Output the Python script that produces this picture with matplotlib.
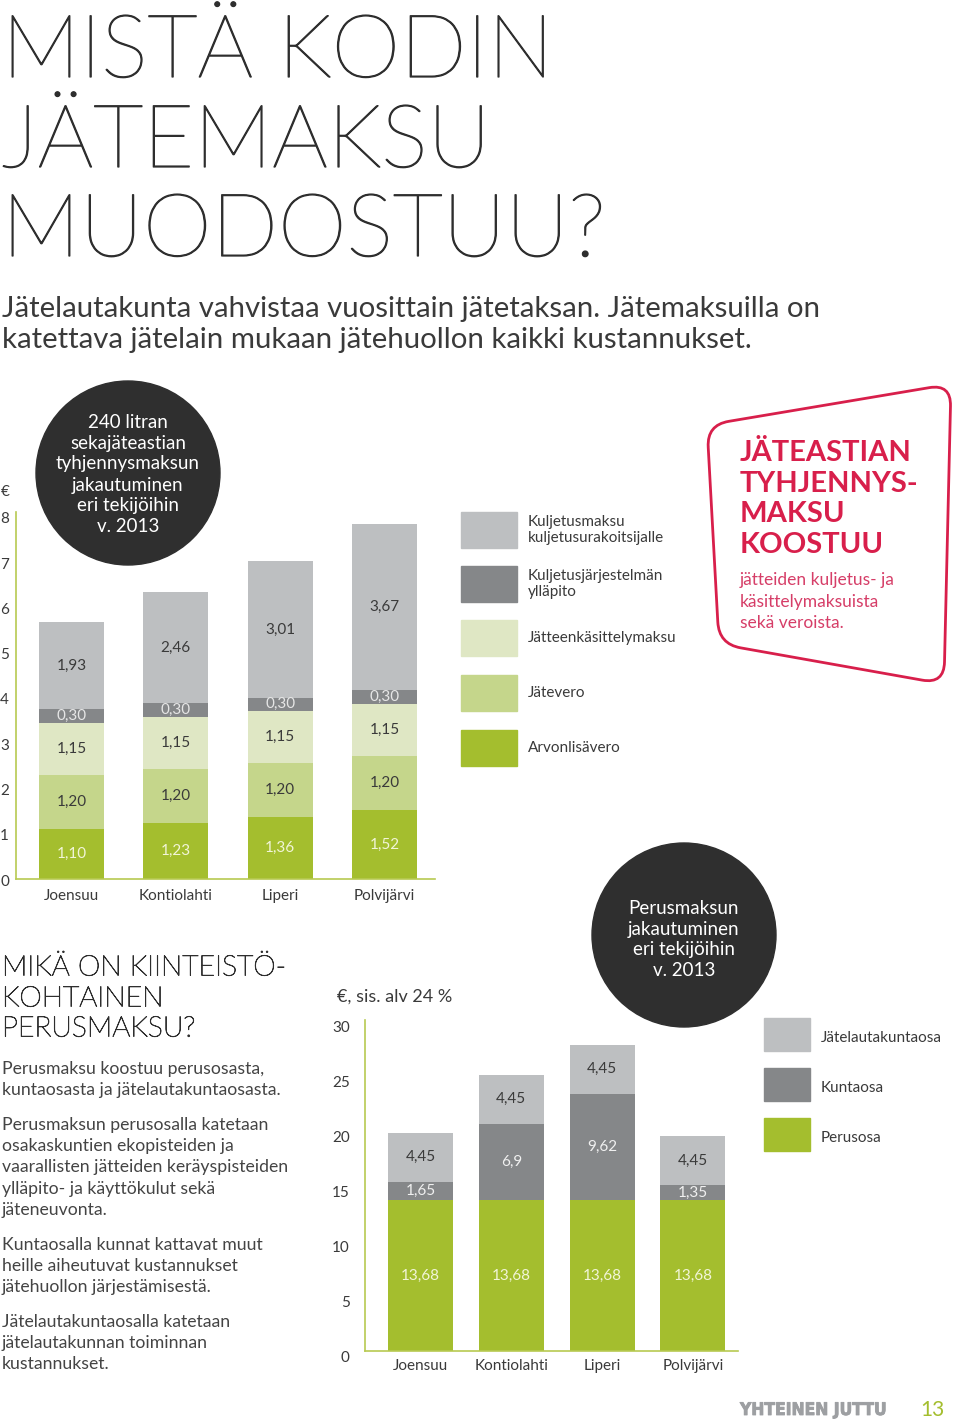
import matplotlib
matplotlib.use("Agg")
import matplotlib.pyplot as plt
import matplotlib.patheffects as pe
from matplotlib.patches import Circle, Rectangle, PathPatch
from matplotlib.path import Path
from matplotlib.transforms import ScaledTranslation

# --- data: emptying fee of a 240 l mixed waste bin, 2013 ---
towns = ["Joensuu", "Kontiolahti", "Liperi", "Polvijärvi"]
arvonlisavero = [1.10, 1.23, 1.36, 1.52]
jatevero = [1.20, 1.20, 1.20, 1.20]
jatteenkasittely = [1.15, 1.15, 1.15, 1.15]
kuljetusjarjestelma = [0.30, 0.30, 0.30, 0.30]
kuljetusmaksu = [1.93, 2.46, 3.01, 3.67]
top_yticks = [0, 1, 2, 3, 4, 5, 6, 7, 8]

# --- data: basic fee, 2013 ---
perusosa = [13.68, 13.68, 13.68, 13.68]
kuntaosa = [1.65, 6.9, 9.62, 1.35]
lautakuntaosa = [4.45, 4.45, 4.45, 4.45]
bottom_yticks = [0, 5, 10, 15, 20, 25, 30]

C_LGRAY = "#bdbfc1"
C_DGRAY = "#858789"
C_PALE = "#dfe7c4"
C_MID = "#c5d68b"
C_GREEN = "#a4be2e"
C_AXIS = "#b7ca52"
C_RED = "#d81f4b"
C_TEXT = "#3a3a3a"
C_LIGHTTXT = "#f2f5d8"

FONT = ["Lato", "DejaVu Sans"]
plt.rcParams["font.family"] = FONT

W, H = 960, 1419
fig = plt.figure(figsize=(W / 100, H / 100), dpi=100)


def ax_rect(left, right, top, bottom):
    return [left / W, 1 - bottom / H, (right - left) / W, (bottom - top) / H]


def stacked(ax, layers, colors, txtcolors, fmt, width, fs):
    x = list(range(len(towns)))
    base = [0.0] * len(towns)
    for vals, col, tc in zip(layers, colors, txtcolors):
        ax.bar(x, vals, width, bottom=base, color=col, zorder=2)
        for i, v in enumerate(vals):
            ax.text(i, base[i] + v / 2, fmt(v).replace(".", ","), ha="center", va="center",
                    fontsize=fs, color=tc, zorder=3)
        base = [b + v for b, v in zip(base, vals)]


def style_axes(ax, ticks, ylim, xlim, fs, xpad, ypad, yoff):
    ax.set_ylim(*ylim)
    ax.set_xlim(*xlim)
    ax.set_yticks(ticks)
    ax.set_xticks(range(len(towns)))
    ax.set_xticklabels(towns)
    ax.patch.set_visible(False)
    for s in ["top", "right"]:
        ax.spines[s].set_visible(False)
    for s in ["left", "bottom"]:
        ax.spines[s].set_color(C_AXIS)
        ax.spines[s].set_linewidth(1.2)
    ax.tick_params(axis="both", length=0, labelsize=fs, colors=C_TEXT)
    ax.tick_params(axis="x", pad=xpad)
    ax.tick_params(axis="y", pad=ypad)
    for lab in ax.get_yticklabels():
        lab.set_transform(lab.get_transform() + ScaledTranslation(0, -yoff / 100, fig.dpi_scale_trans))


# top chart
ax1 = fig.add_axes(ax_rect(16, 435, 512, 879))
stacked(ax1,
        [arvonlisavero, jatevero, jatteenkasittely, kuljetusjarjestelma, kuljetusmaksu],
        [C_GREEN, C_MID, C_PALE, C_DGRAY, C_LGRAY],
        [C_LIGHTTXT, C_TEXT, C_TEXT, "#e6e6e6", C_TEXT],
        lambda v: f"{v:.2f}", 0.623, 11)
style_axes(ax1, top_yticks, (0, 8.11), (-0.532, 3.484), 11, 7, 5, 1)

# bottom chart
ax2 = fig.add_axes(ax_rect(365, 738, 1020, 1351))
stacked(ax2,
        [perusosa, kuntaosa, lautakuntaosa],
        [C_GREEN, C_DGRAY, C_LGRAY],
        [C_LIGHTTXT, "#f0f0f0", C_TEXT],
        lambda v: f"{v:g}", 0.716, 11)
style_axes(ax2, bottom_yticks, (0, 29.9), (-0.611, 3.497), 11, 6, 11, 6)

# overlay in pixel coordinates for the page elements
ov = fig.add_axes([0, 0, 1, 1])
ov.set_xlim(0, W)
ov.set_ylim(H, 0)
ov.axis("off")
ov.patch.set_visible(False)

# headline (thin face thickened slightly with a stroke)
for yy, line in zip([77, 167, 256], ["MISTÄ KODIN", "JÄTEMAKSU", "MUODOSTUU?"]):
    ov.text(2, yy, line, fontsize=63, fontweight=100, color="#2e2e2e", va="baseline", ha="left",
            path_effects=[pe.withStroke(linewidth=0.9, foreground="#2e2e2e")])
ov.text(2, 309, "Jätelautakunta vahvistaa vuosittain jätetaksan. Jätemaksuilla on",
        fontsize=21.2, color=C_TEXT, va="center")
ov.text(2, 340, "katettava jätelain mukaan jätehuollon kaikki kustannukset.",
        fontsize=21.2, color=C_TEXT, va="center")

# circles
ov.add_patch(Circle((128, 473), 92, color="#2f2f2f", zorder=1))
for yy, line in zip([422, 443, 464, 485, 506, 527],
                    ["240 litran", "sekajäteastian", "tyhjennysmaksun", "jakautuminen",
                     "eri tekijöihin", "v. 2013"]):
    ov.text(128, yy, line, fontsize=13.5, color="white", ha="center", va="center")

ov.add_patch(Circle((684, 935), 92, color="#2f2f2f", zorder=1))
for yy, line in zip([908, 929, 950, 971],
                    ["Perusmaksun", "jakautuminen", "eri tekijöihin", "v. 2013"]):
    ov.text(684, yy, line, fontsize=13.5, color="white", ha="center", va="center")

ov.text(5, 492, "€", fontsize=11, color=C_TEXT, ha="center", va="center")
ov.text(337, 997, "€, sis. alv 24 %", fontsize=13, color=C_TEXT, va="center")

# legend 1
leg1 = [(512, C_LGRAY, "Kuljetusmaksu\nkuljetusurakoitsijalle"),
        (566, C_DGRAY, "Kuljetusjärjestelmän\nylläpito"),
        (620, C_PALE, "Jätteenkäsittelymaksu"),
        (675, C_MID, "Jätevero"),
        (730, C_GREEN, "Arvonlisävero")]
for y0, col, lab in leg1:
    ov.add_patch(Rectangle((461, y0), 56, 36, color=col))
    ov.text(528, y0 + 18, lab, fontsize=11, color=C_TEXT, va="center", linespacing=1.2)

# legend 2
for y0, col, lab in [(1018, C_LGRAY, "Jätelautakuntaosa"), (1068, C_DGRAY, "Kuntaosa"),
                     (1118, C_GREEN, "Perusosa")]:
    ov.add_patch(Rectangle((764, y0), 46, 33, color=col))
    ov.text(821, y0 + 20, lab, fontsize=11, color=C_TEXT, va="center")

# red rounded box
corners = [(707, 425), (951, 384), (944, 684), (719, 644)]
r = 22


def toward(p, q, d):
    dx, dy = q[0] - p[0], q[1] - p[1]
    L = (dx * dx + dy * dy) ** 0.5
    return (p[0] + dx / L * d, p[1] + dy / L * d)


verts, codes = [], []
n = len(corners)
for i in range(n):
    p = corners[i]
    s = toward(p, corners[i - 1], r)
    e = toward(p, corners[(i + 1) % n], r)
    verts += [s, p, e]
    codes += [Path.MOVETO if i == 0 else Path.LINETO, Path.CURVE3, Path.CURVE3]
verts.append(verts[0])
codes.append(Path.LINETO)
ov.add_patch(PathPatch(Path(verts, codes), fill=False, edgecolor=C_RED, linewidth=2))
for yy, line in zip([453, 484, 514, 545], ["JÄTEASTIAN", "TYHJENNYS-", "MAKSU", "KOOSTUU"]):
    ov.text(740, yy, line, fontsize=21, fontweight="bold", color=C_RED, va="center")
for yy, line in zip([580, 602, 623], ["jätteiden kuljetus- ja", "käsittelymaksuista", "sekä veroista."]):
    ov.text(740, yy, line, fontsize=12.5, color="#d63e68", va="center")

# lower left text
for yy, line in zip([968, 999, 1029], ["MIKÄ ON KIINTEISTÖ-", "KOHTAINEN", "PERUSMAKSU?"]):
    ov.text(2, yy, line, fontsize=20.5, fontweight=100, color="#2e2e2e", va="center",
            path_effects=[pe.withStroke(linewidth=0.6, foreground="#2e2e2e")])
paras = [
    (1069, ["Perusmaksu koostuu perusosasta,", "kuntaosasta ja jätelautakuntaosasta."]),
    (1125, ["Perusmaksun perusosalla katetaan", "osakaskuntien ekopisteiden ja",
            "vaarallisten jätteiden keräyspisteiden", "ylläpito- ja käyttökulut sekä", "jäteneuvonta."]),
    (1245, ["Kuntaosalla kunnat kattavat muut", "heille aiheutuvat kustannukset",
            "jätehuollon järjestämisestä."]),
    (1322, ["Jätelautakuntaosalla katetaan", "jätelautakunnan toiminnan", "kustannukset."]),
]
for y0, lines in paras:
    for k, line in enumerate(lines):
        ov.text(2, y0 + k * 21.2, line, fontsize=12.7, color="#444444", va="center")

# footer
ov.text(740, 1410, "YHTEINEN JUTTU", fontsize=12.5, fontweight="heavy", color="#9d9fa2", va="center",
        family="DejaVu Sans", fontstretch="condensed",
        path_effects=[pe.withStroke(linewidth=0.6, foreground="#9d9fa2")])
ov.text(920, 1410, "13", fontsize=15, color=C_GREEN, va="center")

fig.savefig("out.png", dpi=100, facecolor="white")
